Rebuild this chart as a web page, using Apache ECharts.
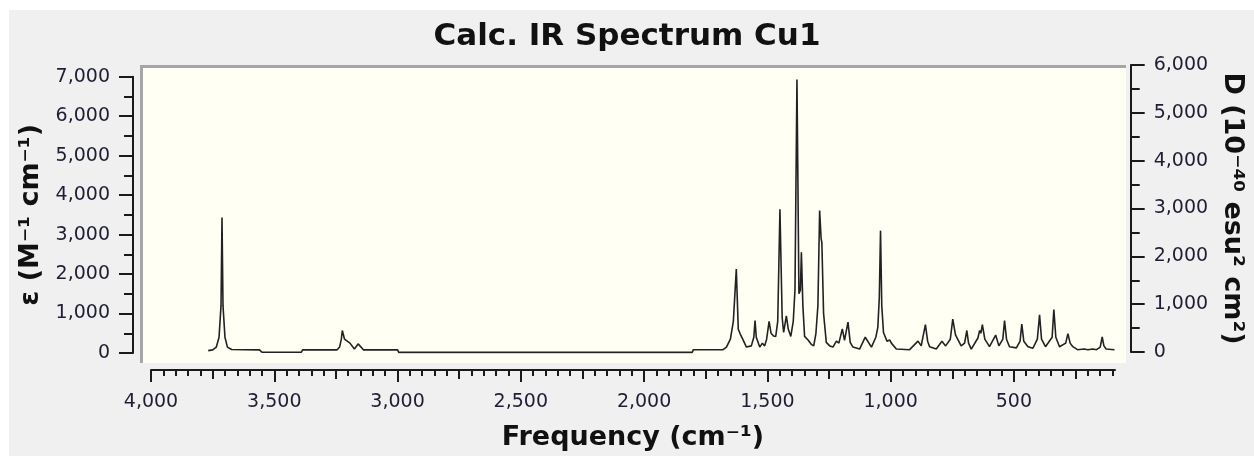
<!DOCTYPE html>
<html><head><meta charset="utf-8">
<script src="https://cdn.jsdelivr.net/npm/echarts@6/dist/echarts.min.js"></script>
<style>
html,body{margin:0;padding:0;background:#fff;}
#wrap{position:relative;width:1254px;height:456px;overflow:hidden;}
#bg{position:absolute;left:9px;top:10px;right:0;bottom:0;background:#f0f0f0;}
#plot{position:absolute;left:140px;top:65px;width:986px;height:298px;box-sizing:border-box;background:#fffff4;border-top:3px solid #a6a6a6;border-left:3px solid #a6a6a6;}
#chart{position:absolute;left:0;top:0;width:1254px;height:456px;}
</style></head><body>
<div id="wrap"><div id="bg"></div><div id="plot"></div><div id="chart"></div></div>
<script>
// Spectrum: frequency (cm-1) and epsilon (M-1 cm-1)
const freq = [3768,3750,3735,3724,3716,3712,3708,3700,3690,3673,3560,3550,3390,3385,3245,3235,3228,3224,3215,3193,3175,3160,3155,3148,3139,3000,2995,1805,1800,1680,1666,1650,1638,1626,1618,1610,1600,1585,1565,1555,1550,1545,1531,1520,1511,1503,1493,1485,1475,1466,1458,1449,1440,1434,1423,1415,1405,1395,1388,1380,1372,1366,1362,1356,1349,1335,1322,1312,1303,1295,1288,1282,1279,1272,1261,1247,1234,1220,1210,1196,1187,1173,1164,1153,1126,1103,1078,1060,1052,1046,1041,1036,1029,1015,1004,997,977,923,889,876,859,850,842,815,792,777,758,748,737,714,700,691,684,673,646,639,634,628,618,599,574,561,545,538,530,518,490,475,468,460,443,423,405,396,388,372,345,338,330,315,290,281,272,261,242,215,200,180,165,150,142,135,126,92];
const eps = [60,80,150,400,1200,3430,1200,400,150,90,80,20,20,80,80,150,350,570,350,250,100,230,250,150,80,80,15,15,84,84,150,350,800,2126,600,480,350,150,180,400,820,400,150,250,180,350,800,500,430,420,800,3640,900,520,940,600,420,800,1600,6930,1500,1600,2550,1200,420,330,220,180,500,1200,3610,2900,2800,1000,270,180,150,300,250,610,320,780,270,150,100,400,150,400,650,1400,3100,1200,520,300,330,250,100,84,300,180,720,300,160,100,300,180,350,860,460,180,250,570,250,100,380,570,500,720,350,160,455,180,350,820,350,160,130,300,730,300,160,120,350,970,350,160,400,1100,400,160,250,490,250,160,84,100,84,100,84,150,405,180,100,84];

const titleText = 'Calc. IR Spectrum Cu1';
const xName = 'Frequency (cm\u207B\u00B9)';
const yLeftName = '\u03B5 (M\u207B\u00B9 cm\u207B\u00B9)';
const yRightName = 'D (10\u207B\u2074\u2070 esu\u00B2 cm\u00B2)';
const xMajorTicks = [500,1000,1500,2000,2500,3000,3500,4000];
const xMidTicks = [250,750,1250,1750,2250,2750,3250,3750];
const xMinorTicks = [];
for (let v = 100; v <= 4000; v += 50) xMinorTicks.push(v);

const FONT = 'DejaVu Sans';
const INK = '#1a1a1a';
const LBL = '#1e1e34';
const fmt = v => String(v).replace(/\B(?=(\d{3})+(?!\d))/g, ',');
const lineSt = {color: INK, width: 2};

const data = freq.map((f, i) => [f, eps[i]]);
const xBase = {type:'value', gridIndex:0, min:90, max:4000, inverse:true, position:'bottom', offset:17, splitLine:{show:false}};
const labelSt = {fontFamily: FONT, fontSize: 19, color: LBL};
const nameSt = {fontFamily: FONT, fontSize: 27, fontWeight: 'bold', color: '#111'};

const chart = echarts.init(document.getElementById('chart'), null, {renderer:'canvas'});
chart.setOption({
  animation: false,
  backgroundColor: 'transparent',
  title: {text: titleText, left: 'center', top: 16, textStyle: {fontFamily: FONT, fontSize: 31, fontWeight: 'bold', color: '#111'}},
  grid: [
    {left: 151, top: 76.7, width: 964, height: 276.6, containLabel: false},
    {left: 151, top: 65, width: 964, height: 287, containLabel: false}
  ],
  xAxis: [
    Object.assign({}, xBase, {
      axisLine: {show: true, onZero: false, lineStyle: lineSt},
      axisTick: {show: true, length: 12, customValues: xMajorTicks, lineStyle: lineSt},
      axisLabel: Object.assign({customValues: xMajorTicks, formatter: fmt, margin: 23}, labelSt),
      name: xName, nameLocation: 'middle', nameGap: 54, nameTextStyle: nameSt
    }),
    Object.assign({}, xBase, {
      axisLine: {show: false, onZero: false},
      axisTick: {show: true, length: 9, customValues: xMidTicks, lineStyle: lineSt},
      axisLabel: {show: false}
    }),
    Object.assign({}, xBase, {
      axisLine: {show: false, onZero: false},
      axisTick: {show: true, length: 6, customValues: xMinorTicks, lineStyle: lineSt},
      axisLabel: {show: false}
    }),
    {type: 'value', gridIndex: 1, min: 90, max: 4000, inverse: true, show: false, axisLine: {onZero: false}}
  ],
  yAxis: [
    {type: 'value', gridIndex: 0, position: 'left', offset: 18, min: 0, max: 7000, interval: 1000,
     axisLine: {show: true, onZero: false, lineStyle: lineSt},
     axisTick: {show: true, length: 14, lineStyle: lineSt},
     minorTick: {show: true, splitNumber: 2, length: 9, lineStyle: lineSt},
     splitLine: {show: false}, minorSplitLine: {show: false},
     axisLabel: Object.assign({formatter: fmt, margin: 23}, labelSt),
     name: yLeftName, nameLocation: 'middle', nameRotate: 90, nameGap: 86, nameTextStyle: nameSt},
    {type: 'value', gridIndex: 1, position: 'right', offset: 17, min: 0, max: 6000, interval: 1000,
     axisLine: {show: true, onZero: false, lineStyle: lineSt},
     axisTick: {show: true, length: 14, lineStyle: lineSt},
     minorTick: {show: true, splitNumber: 2, length: 9, lineStyle: lineSt},
     splitLine: {show: false}, minorSplitLine: {show: false},
     axisLabel: Object.assign({formatter: fmt, margin: 23}, labelSt),
     name: yRightName, nameLocation: 'middle', nameRotate: -90, nameGap: 72, nameTextStyle: nameSt}
  ],
  series: [{
    type: 'line', xAxisIndex: 0, yAxisIndex: 0, data: data,
    showSymbol: false, symbol: 'none',
    lineStyle: {color: '#222', width: 1.6},
    z: 3
  }]
});
</script>
</body></html>
